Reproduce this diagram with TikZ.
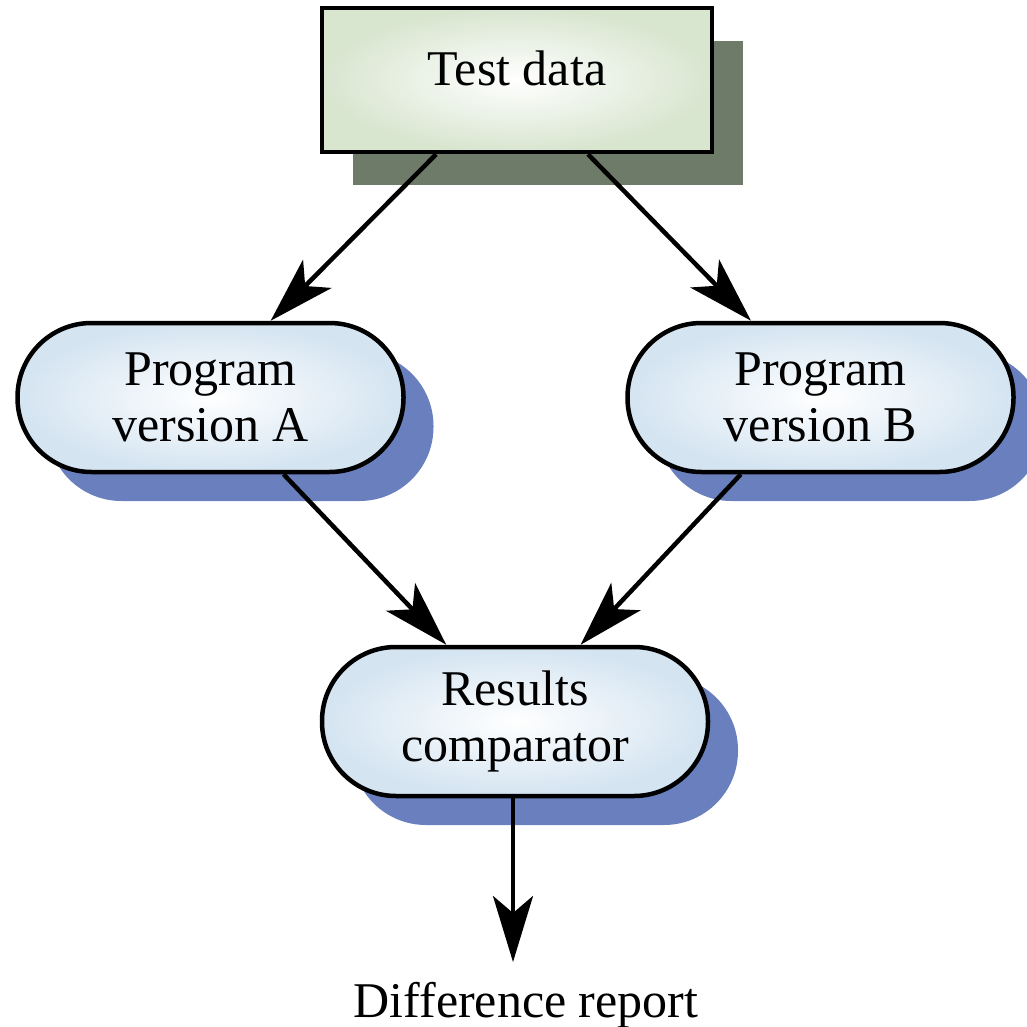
\documentclass[tikz,border=0pt]{standalone}
\usepackage{fontspec}
\setmainfont{Liberation Serif}
\usetikzlibrary{arrows.meta,shadows,calc}
\definecolor{dataedge}{HTML}{D8E5CF}
\definecolor{datashadow}{HTML}{6F7B69}
\definecolor{procedge}{HTML}{D4E4F1}
\definecolor{procshadow}{HTML}{6A80BE}
\tikzset{
  lbl/.style={font=\fontsize{50}{56}\selectfont, align=center, text=black},
  databox/.style={lbl, draw=black, line width=4.5pt, rectangle,
    inner color=white, outer color=dataedge,
    minimum width=390pt, minimum height=144pt,
    text height=35pt, text depth=24pt,
    drop shadow={shadow xshift=31pt, shadow yshift=-33pt, fill=datashadow, opacity=1}},
  procbox/.style={lbl, draw=black, line width=4.5pt, rectangle, rounded corners=74pt,
    inner color=white, outer color=procedge,
    minimum width=386pt, minimum height=149pt,
    drop shadow={shadow xshift=30pt, shadow yshift=-29pt, fill=procshadow, opacity=1}},
  flow/.style={line width=4.5pt, -{Stealth[length=66pt,width=40pt,inset=17pt]}}
}
\begin{document}
\begin{tikzpicture}[x=1pt,y=-1pt]
\useasboundingbox (0,0) rectangle (1027,1027);
\node[databox] (td) at (517,80) {Test data};
\node[procbox] (pa) at (210.5,397.5) {Program\\version A};
\node[procbox] (pb) at (820.5,397.5) {Program\\version B};
\node[procbox] (cmp) at (515,721.5) {Results\\comparator};
\node[lbl, anchor=north, inner ysep=20pt] (rep) at (526,962) {Difference report};
\draw[flow] ($(td.south west)!0.295!(td.south east)$) -- ($(pa.north west)!0.654!(pa.north east)$);
\draw[flow] ($(td.south west)!0.68!(td.south east)$) -- ($(pb.north west)!0.322!(pb.north east)$);
\draw[flow] ($(pa.south west)!0.687!(pa.south east)$) -- ($(cmp.north west)!0.324!(cmp.north east)$);
\draw[flow] ($(pb.south west)!0.296!(pb.south east)$) -- ($(cmp.north west)!0.668!(cmp.north east)$);
\draw[flow] (cmp.south -| 513,0) -- (rep.north -| 513,0);
\end{tikzpicture}
\end{document}
